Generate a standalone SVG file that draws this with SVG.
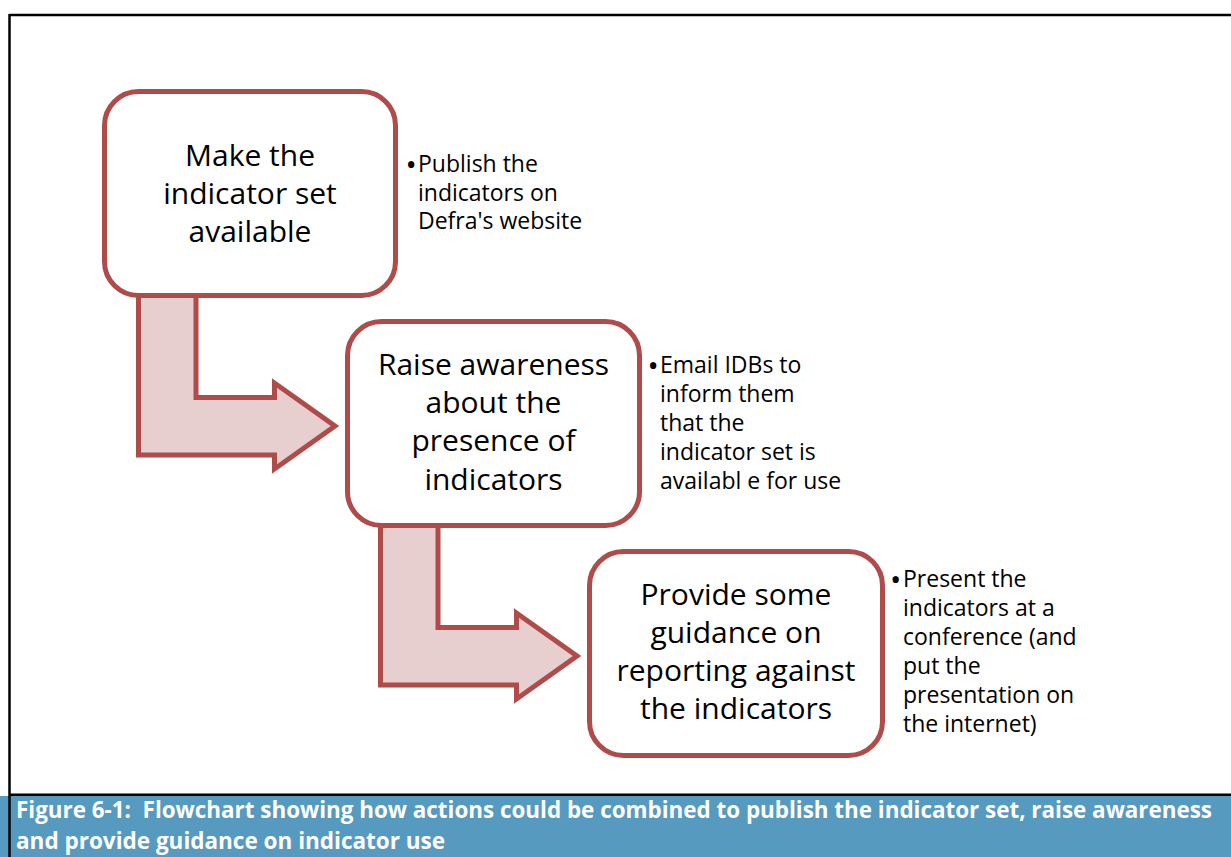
<svg xmlns="http://www.w3.org/2000/svg" width="1231" height="857" viewBox="0 0 1231 857">
<style>
.box{fill:#FFFFFF;stroke:#AF4B48;stroke-width:5}
.arrow{fill:#E7CFCF;stroke:#AF4B48;stroke-width:5;stroke-linejoin:miter}
.main{font-family:"Open Sans","Liberation Sans",sans-serif;font-size:30px;fill:#000;text-anchor:middle}
.side{font-family:"Open Sans","Liberation Sans",sans-serif;font-size:23px;fill:#000}
.bul{font-size:30px}
.cap{font-family:"Open Sans","Liberation Sans",sans-serif;font-size:22.5px;font-weight:bold;fill:#FFFFFF}
</style>
<rect x="0" y="0" width="1231" height="857" fill="#FFFFFF"/>
<rect x="0" y="796" width="1231" height="61" fill="#579AC0"/>
<line x1="9.5" y1="15" x2="1231" y2="15" stroke="#000" stroke-width="2.5"/>
<line x1="9.5" y1="14" x2="9.5" y2="857" stroke="#000" stroke-width="2.5"/>
<line x1="9.5" y1="794.7" x2="1231" y2="794.7" stroke="#000" stroke-width="2.5"/>
<g id="connectors">
<polygon class="arrow" points="138.5,293 196,293 196,397.5 274.5,397.5 274.5,383 335,426 274.5,469 274.5,455 138.5,455"/>
<polygon class="arrow" points="380.5,523 438,523 438,627.5 516.5,627.5 516.5,613 577,656 516.5,699 516.5,685 380.5,685"/>
</g>
<g id="node1">
<rect class="box" x="104.5" y="91.5" width="291" height="204" rx="34"/>
<text class="main"><tspan x="250" y="166">Make the</tspan><tspan x="250" y="204">indicator set</tspan><tspan x="250" y="242">available</tspan></text>
</g>
<g id="note1">
<text class="side"><tspan class="bul" x="405.5" y="175">•</tspan><tspan x="418" y="172">Publish the</tspan><tspan x="418" y="200.5">indicators on</tspan><tspan x="418" y="229">Defra's website</tspan></text>
</g>
<g id="node2">
<rect class="box" x="347.5" y="321.5" width="292" height="204" rx="34"/>
<text class="main"><tspan x="493.5" y="375">Raise awareness</tspan><tspan x="493.5" y="413">about the</tspan><tspan x="493.5" y="451">presence of</tspan><tspan x="493.5" y="490">indicators</tspan></text>
</g>
<g id="note2">
<text class="side"><tspan class="bul" x="647.5" y="376">•</tspan><tspan x="660" y="373">Email IDBs to</tspan><tspan x="660" y="402">inform them</tspan><tspan x="660" y="431">that the</tspan><tspan x="660" y="460">indicator set is</tspan><tspan x="660" y="489">availabl e for use</tspan></text>
</g>
<g id="node3">
<rect class="box" x="589.5" y="551.5" width="293" height="204" rx="34"/>
<text class="main"><tspan x="736" y="605">Provide some</tspan><tspan x="736" y="643">guidance on</tspan><tspan x="736" y="681">reporting against</tspan><tspan x="736" y="719">the indicators</tspan></text>
</g>
<g id="note3">
<text class="side"><tspan class="bul" x="890" y="590">•</tspan><tspan x="903" y="587">Present the</tspan><tspan x="903" y="616">indicators at a</tspan><tspan x="903" y="645">conference (and</tspan><tspan x="903" y="674">put the</tspan><tspan x="903" y="703">presentation on</tspan><tspan x="903" y="732">the internet)</tspan></text>
</g>
<g id="caption">
<text class="cap" x="16" y="818" textLength="1196" lengthAdjust="spacingAndGlyphs" xml:space="preserve">Figure 6-1:  Flowchart showing how actions could be combined to publish the indicator set, raise awareness</text>
<text class="cap" x="16" y="849">and provide guidance on indicator use</text>
</g>
</svg>
